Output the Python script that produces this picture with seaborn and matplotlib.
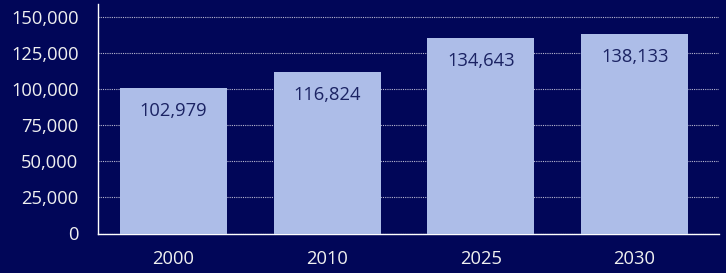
import matplotlib
matplotlib.use("Agg")
import matplotlib.pyplot as plt
import seaborn as sns
import pandas as pd

years = ["2000", "2010", "2025", "2030"]
# bar heights as drawn in the picture
heights = [100700, 111500, 135500, 138200]
# values printed on the bars
labels = [102979, 116824, 134643, 138133]
y_ticks = [0, 25000, 50000, 75000, 100000, 125000, 150000]

BG = "#010658"
BAR = "#adbde8"
TEXT = "#f0f0f0"

sns.set_style("white")
plt.rcParams["font.family"] = ["Open Sans", "DejaVu Sans"]

df = pd.DataFrame({"year": years, "value": heights})

fig = plt.figure(figsize=(7.26, 2.73), dpi=100, facecolor=BG)
ax = fig.add_axes([98 / 726, 39.5 / 273, 621 / 726, 229.5 / 273])
ax.set_facecolor(BG)

sns.barplot(data=df, x="year", y="value", color=BAR, width=0.696,
            saturation=1, linewidth=0, edgecolor="none", ax=ax, zorder=3)

for i, (h, v) in enumerate(zip(heights, labels)):
    ax.annotate(f"{v:,}", (i, h), xytext=(0, -16.5), textcoords="offset points",
                ha="center", va="center", fontsize=13.2, color="#1b2363", zorder=4)

ax.set_ylim(0, 158800)
ax.set_xlim(-0.491, 3.549)
ax.set_yticks(y_ticks)
ax.set_yticklabels([f"{t:,}" for t in y_ticks])
ax.yaxis.grid(True, color="#b8b8d0", linestyle=(0, (1, 1)), linewidth=0.8, zorder=0)
ax.set_axisbelow(True)

for s in ["top", "right"]:
    ax.spines[s].set_visible(False)
for s in ["left", "bottom"]:
    ax.spines[s].set_color("white")
    ax.spines[s].set_linewidth(1)

ax.tick_params(axis="y", colors=TEXT, labelsize=13.2, length=5, color="#8e8eb0", pad=9)
ax.tick_params(axis="x", colors=TEXT, labelsize=13.2, length=0, pad=12)
ax.set_xlabel("")
ax.set_ylabel("")

fig.savefig("out.png", dpi=100, facecolor=BG)
